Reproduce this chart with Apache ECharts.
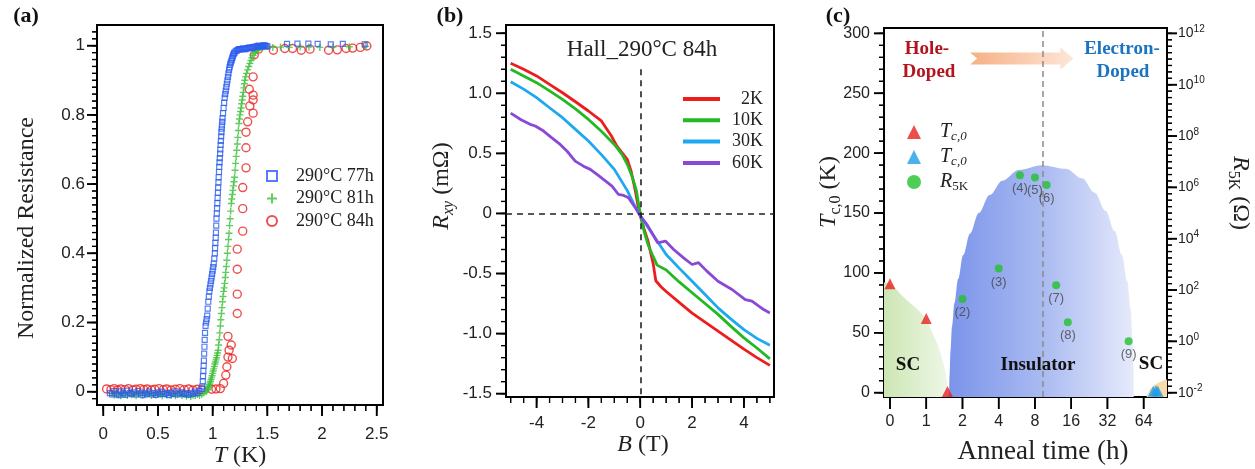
<!DOCTYPE html>
<html>
<head>
<meta charset="utf-8">
<script src="https://cdn.jsdelivr.net/npm/echarts@6.0.0/dist/echarts.min.js"></script>
<style>
html,body{margin:0;padding:0;background:#fff;}
#chart{width:1255px;height:469px;}
</style>
</head>
<body>
<div id="chart"></div>
<script>
// ===================== Panel (a): normalized resistance vs T =====================
const res77h = [[0.06,-0.004],[0.08,-0.008],[0.10,0.002],[0.12,-0.006],[0.14,-0.010],[0.16,0.001],[0.18,-0.005],[0.20,-0.009],[0.22,0.003],[0.24,-0.004],[0.26,-0.007],[0.28,-0.002],[0.30,-0.008],[0.32,0.002],[0.34,-0.005],[0.36,-0.010],[0.38,-0.003],[0.40,-0.006],[0.42,0.001],[0.44,-0.008],[0.46,-0.004],[0.48,-0.009],[0.50,-0.002],[0.52,-0.006],[0.54,0.000],[0.56,-0.007],[0.58,-0.004],[0.60,-0.010],[0.62,-0.003],[0.64,-0.006],[0.66,0.001],[0.68,-0.008],[0.70,-0.005],[0.72,-0.002],[0.74,-0.007],[0.76,-0.004],[0.78,-0.009],[0.80,-0.003],[0.82,-0.006],[0.84,0.000],[0.86,-0.004],[0.88,0.002],[0.90,0.008],
 [0.905,0.015],[0.91,0.03],[0.912,0.045],[0.915,0.06],[0.918,0.075],[0.92,0.09],[0.922,0.11],[0.925,0.13],[0.927,0.15],[0.93,0.17],[0.935,0.19],[0.94,0.20],[0.945,0.21],[0.95,0.22],[0.955,0.24],[0.96,0.26],[0.965,0.275],[0.97,0.29],[0.975,0.30],[0.98,0.31],[0.985,0.32],[0.99,0.33],[0.995,0.34],[1.00,0.35],[1.005,0.36],[1.01,0.37],[1.015,0.385],[1.02,0.40],[1.022,0.415],[1.025,0.43],[1.028,0.445],[1.03,0.46],[1.033,0.48],[1.035,0.50],[1.038,0.515],[1.04,0.53],[1.043,0.545],[1.045,0.56],[1.048,0.575],[1.05,0.59],[1.053,0.605],[1.055,0.62],[1.058,0.635],[1.06,0.65],[1.063,0.663],[1.065,0.675],[1.068,0.688],[1.07,0.70],[1.073,0.713],[1.075,0.725],[1.078,0.738],[1.08,0.75],[1.083,0.76],[1.085,0.77],[1.088,0.78],[1.09,0.79],[1.095,0.805],[1.10,0.82],[1.105,0.835],[1.11,0.85],[1.115,0.86],[1.12,0.87],[1.125,0.88],[1.13,0.89],[1.135,0.90],[1.14,0.91],[1.145,0.92],[1.15,0.93],[1.155,0.938],[1.16,0.945],[1.165,0.95],[1.17,0.955],[1.175,0.96],[1.18,0.965],[1.185,0.97],[1.19,0.975],[1.195,0.978],[1.20,0.98],[1.21,0.984],[1.22,0.986],[1.23,0.988],[1.24,0.99],[1.25,0.989],[1.26,0.99],[1.27,0.991],[1.28,0.992],[1.29,0.99],[1.30,0.99],[1.31,0.992],[1.32,0.993],[1.33,0.994],[1.34,0.995],[1.35,0.993],[1.36,0.994],[1.37,0.996],[1.38,0.997],[1.39,0.996],[1.40,0.998],[1.41,0.999],[1.42,1.0],[1.43,0.999],[1.44,0.998],[1.45,0.999],[1.46,1.0],[1.47,1.001],[1.48,1.0],[1.49,0.999],[1.50,0.998],
 [1.68,1.005],[1.775,1.006],[1.875,1.006],[1.96,1.005],[2.08,1.004],[2.19,1.005],[2.39,1.004]];
const res81h = [[0.08,-0.006],[0.10,-0.010],[0.12,-0.004],[0.14,-0.009],[0.16,-0.012],[0.18,-0.005],[0.20,-0.008],[0.22,-0.011],[0.24,-0.004],[0.26,-0.009],[0.28,-0.006],[0.30,-0.012],[0.32,-0.007],[0.34,-0.003],[0.36,-0.010],[0.38,-0.006],[0.40,-0.009],[0.42,-0.004],[0.44,-0.011],[0.46,-0.007],[0.48,-0.010],[0.50,-0.005],[0.52,-0.008],[0.54,-0.012],[0.56,-0.006],[0.58,-0.009],[0.60,-0.004],[0.62,-0.010],[0.64,-0.007],[0.66,-0.012],[0.68,-0.008],[0.70,-0.005],[0.72,-0.011],[0.74,-0.008],[0.76,-0.013],[0.78,-0.009],[0.80,-0.014],[0.82,-0.010],[0.84,-0.012],[0.86,-0.008],[0.88,-0.011],[0.90,-0.007],[0.92,-0.004],[0.94,0.000],
 [0.95,0.005],[0.955,0.008],[0.96,0.012],[0.965,0.016],[0.97,0.02],[0.975,0.025],[0.98,0.03],[0.985,0.035],[0.99,0.04],[0.995,0.046],[1.00,0.053],[1.005,0.06],[1.01,0.066],[1.015,0.073],[1.02,0.08],[1.025,0.086],[1.03,0.092],[1.035,0.098],[1.04,0.105],[1.045,0.112],[1.05,0.12],[1.055,0.135],[1.06,0.15],[1.065,0.17],[1.07,0.19],[1.075,0.208],[1.08,0.226],[1.085,0.243],[1.09,0.26],[1.095,0.275],[1.10,0.29],[1.105,0.30],[1.11,0.313],[1.115,0.33],[1.12,0.345],[1.125,0.362],[1.13,0.38],[1.135,0.40],[1.14,0.42],[1.145,0.44],[1.15,0.458],[1.155,0.48],[1.16,0.50],[1.165,0.522],[1.17,0.544],[1.175,0.557],[1.18,0.57],[1.185,0.582],[1.19,0.595],[1.195,0.607],[1.20,0.62],[1.205,0.64],[1.21,0.66],[1.215,0.68],[1.22,0.698],[1.225,0.716],[1.23,0.735],[1.235,0.755],[1.24,0.775],[1.245,0.788],[1.25,0.80],[1.255,0.81],[1.26,0.82],[1.265,0.832],[1.27,0.843],[1.275,0.854],[1.28,0.865],[1.285,0.878],[1.29,0.89],[1.295,0.90],[1.30,0.91],[1.31,0.92],[1.32,0.93],[1.33,0.94],[1.34,0.949],[1.35,0.957],[1.36,0.965],[1.37,0.972],[1.38,0.978],[1.39,0.983],[1.40,0.987],[1.41,0.99],[1.42,0.992],[1.43,0.994],[1.44,0.995],[1.45,0.996],[1.46,0.997],[1.47,0.998],[1.48,0.998],[1.50,0.998],
 [1.55,0.995],[1.62,0.996],[1.70,0.995],[1.80,0.996],[1.88,0.996],[1.98,0.995],[2.10,0.996],[2.25,0.997],[2.40,0.998]];
const res84h = [[0.03,0.008],[0.07,0.006],[0.10,0.009],[0.13,0.005],[0.16,0.008],[0.20,0.006],[0.23,0.009],[0.27,0.005],[0.30,0.007],[0.34,0.009],[0.37,0.006],[0.40,0.008],[0.44,0.005],[0.47,0.007],[0.51,0.009],[0.55,0.006],[0.58,0.008],[0.62,0.005],[0.66,0.007],[0.70,0.009],[0.74,0.006],[0.78,0.008],[0.82,0.005],[0.86,0.007],[0.90,0.006],[0.99,0.007],[1.03,0.008],[1.07,0.009],
 [1.10,0.024],[1.12,0.048],[1.13,0.072],[1.14,0.10],[1.15,0.12],[1.17,0.135],[1.14,0.16],[1.18,0.096],[1.225,0.226],[1.225,0.282],[1.225,0.354],[1.225,0.412],[1.275,0.464],[1.275,0.529],[1.275,0.59],[1.305,0.647],[1.305,0.705],[1.305,0.75],[1.32,0.78],[1.37,0.805],[1.34,0.826],[1.37,0.843],[1.37,0.857],[1.335,0.874],[1.37,0.91],[1.38,0.973],[1.42,0.99],
 [1.555,0.987],[1.66,0.992],[1.73,0.992],[1.81,0.987],[1.89,0.99],[2.06,0.987],[2.14,0.988],[2.22,0.992],[2.28,0.993],[2.35,0.995],[2.41,0.999]];
const aTempTicks = [0, 0.5, 1, 1.5, 2, 2.5];
const aResTicks = [0, 0.2, 0.4, 0.6, 0.8, 1];

// ===================== Panel (b): Hall resistance vs B =====================
const hall2K = [[-5,1.25],[-4.5,1.20],[-4,1.145],[-3.5,1.075],[-3,1.005],[-2.5,0.93],[-2,0.853],[-1.5,0.77],[-1.1,0.64],[-0.9,0.56],[-0.7,0.505],[-0.5,0.45],[-0.35,0.35],[-0.2,0.2],[-0.1,0.08],[0,-0.02],[0.15,-0.13],[0.3,-0.23],[0.5,-0.42],[0.6,-0.56],[0.8,-0.61],[1,-0.65],[1.5,-0.74],[2,-0.83],[2.5,-0.905],[3,-0.98],[3.5,-1.055],[4,-1.13],[4.5,-1.20],[5,-1.265]];
const hall10K = [[-5,1.20],[-4.5,1.145],[-4,1.089],[-3.5,1.02],[-3,0.95],[-2.5,0.87],[-2,0.783],[-1.5,0.685],[-1,0.575],[-0.7,0.49],[-0.5,0.41],[-0.3,0.30],[-0.15,0.19],[0,0.0],[0.15,-0.15],[0.3,-0.26],[0.5,-0.36],[0.65,-0.43],[1,-0.47],[1.5,-0.57],[2,-0.66],[2.5,-0.75],[3,-0.84],[3.5,-0.94],[4,-1.036],[4.5,-1.12],[5,-1.21]];
const hall30K = [[-5,1.097],[-4.5,1.035],[-4,0.964],[-3.5,0.88],[-3,0.797],[-2.5,0.70],[-2,0.603],[-1.5,0.49],[-1,0.367],[-0.5,0.19],[-0.25,0.08],[0,-0.02],[0.25,-0.1],[0.5,-0.18],[1,-0.342],[1.5,-0.455],[2,-0.564],[2.5,-0.675],[3,-0.786],[3.5,-0.88],[4,-0.967],[4.5,-1.04],[5,-1.097]];
const hall60K = [[-5,0.835],[-4.6,0.78],[-4.25,0.742],[-4.05,0.728],[-3.73,0.686],[-3.41,0.63],[-3.09,0.575],[-2.83,0.52],[-2.51,0.436],[-2.19,0.394],[-1.93,0.367],[-1.67,0.325],[-1.42,0.283],[-1.09,0.228],[-0.84,0.158],[-0.64,0.15],[-0.45,0.13],[-0.19,0.047],[0,-0.02],[0.26,-0.092],[0.67,-0.244],[0.97,-0.23],[1.29,-0.30],[1.67,-0.37],[2.0,-0.425],[2.25,-0.41],[2.57,-0.48],[3.0,-0.564],[3.54,-0.633],[4.05,-0.717],[4.31,-0.73],[4.76,-0.80],[5.0,-0.828]];
const bFieldTicks = [-4, -2, 0, 2, 4];
const bRxyTicks = [-1.5, -1, -0.5, 0, 0.5, 1, 1.5];

// ===================== Panel (c): phase diagram =====================
const annealTickHours = [0, 1, 2, 4, 8, 16, 32, 64];
const holeTcHours = [0, 1, 1.5];
const holeTc = [91, 62, 1];
const elecTcHours = [77, 81, 84];
const elecTc = [1.2, 1.8, 1.2];
const r5kHours = [2, 4, 6, 8, 10, 12, 15, 48];
const r5kOhm = [45, 690, 3.0e6, 2.45e6, 1.23e6, 155, 5.6, 1.0];
const r5kLabels = ['(2)', '(3)', '(4)', '(5)', '(6)', '(7)', '(8)', '(9)'];
const cTcTicks = [0, 50, 100, 150, 200, 250, 300];
const cRExpTicks = [-2, 0, 2, 4, 6, 8, 10, 12];
const crossoverHours = 9.25;
// region outlines, in anneal-axis position units and Tc units
const holeScOutline = [[-0.17,92],[0,91],[0.37,80],[0.74,70],[1.0,61],[1.2,48],[1.34,38],[1.45,27],[1.52,19],[1.58,8],[1.61,-3.6]];
const insulatorOutline = [[1.63,-3.6],[1.645,15],[1.67,35],[1.71,55],[1.78,75],[1.88,95],[2.02,115],[2.21,133],[2.45,150],[2.75,165],[3.1,177],[3.55,186],[4.19,190],[4.85,187],[5.3,179],[5.65,167],[5.95,152],[6.2,135],[6.4,115],[6.55,93],[6.64,70],[6.69,45],[6.72,20],[6.73,-3.6]];
const elecScOutline = [[7.08,-3.6],[7.18,3],[7.3,6.5],[7.45,9],[7.64,11],[7.8,12]];
const dopingArrow = [[2.21, 279, 5.06]];

// ===================== helpers =====================
const SERIF = 'Liberation Serif', SANS = 'Liberation Sans';
function steps(a, b, s) { const r = []; for (let i = 0; a + i * s <= b + 1e-9; i++) r.push(+(a + i * s).toFixed(6)); return r; }
const annealPos = h => h === 0 ? 0 : 1 + Math.log2(h);

function mkAxis(grid, pos, min, max, majors, o) {
  const ax = { type: 'value', gridIndex: grid, min: min, max: max, position: pos, splitLine: { show: false },
    axisLine: { show: true, onZero: false, lineStyle: { color: '#000', width: 2 } },
    axisTick: { show: false },
    axisLabel: { show: true, customValues: majors, margin: o.margin, color: '#222', fontFamily: SANS, fontSize: o.fs || 17 } };
  if (o.fmt) ax.axisLabel.formatter = o.fmt;
  if (o.rich) ax.axisLabel.rich = o.rich;
  return ax;
}

// axis ranges
const aX = [-0.0576, 2.5576], aY = [-0.0384, 1.0598];
const bX = [-5.18, 5.16], bY = [-1.528, 1.569];
const cX = [-0.166, 7.644], cY = [-3.6, 304.5];
const cR = [-2 + cY[0] * 14 / 300, -2 + cY[1] * 14 / 300];

const xAxis = [
  mkAxis(0, 'bottom', aX[0], aX[1], aTempTicks, { margin: 21 }),
  mkAxis(1, 'bottom', bX[0], bX[1], bFieldTicks, { margin: 18 }),
  mkAxis(2, 'bottom', cX[0], cX[1], steps(0, 7, 1), { margin: 17, fs: 16, fmt: v => String(annealTickHours[Math.round(v)]) })
];
const yAxis = [
  mkAxis(0, 'left', aY[0], aY[1], aResTicks, { margin: 12 }),
  mkAxis(1, 'left', bY[0], bY[1], bRxyTicks, { margin: 14, fmt: v => v === 0 ? '0' : v.toFixed(1) }),
  mkAxis(2, 'left', cY[0], cY[1], cTcTicks, { margin: 14, fs: 16 }),
  mkAxis(2, 'right', cR[0], cR[1], cRExpTicks, { margin: 11, fs: 14,
    fmt: v => '{b|10}{s|' + v + '}',
    rich: { b: { fontFamily: SANS, fontSize: 14, color: '#222', lineHeight: 18 },
            s: { fontFamily: SANS, fontSize: 10, color: '#222', lineHeight: 10, verticalAlign: 'top' } } })
];

// tick marks: [side, xAxisIndex, yAxisIndex, edge value on the other axis, tick values, length, width]
const tickDefs = [
  ['b', 0, 0, aY[0], aTempTicks, 11, 1.6], ['b', 0, 0, aY[0], steps(0, 2.5, 0.1), 6, 1.2],
  ['l', 0, 0, aX[0], aResTicks, 10, 1.6], ['l', 0, 0, aX[0], steps(-0.02, 1.04, 0.02), 5, 1.2],
  ['b', 1, 1, bY[0], bFieldTicks, 11, 1.6], ['b', 1, 1, bY[0], steps(-5, 5, 0.5), 6, 1.2],
  ['l', 1, 1, bX[0], bRxyTicks, 10, 1.6], ['l', 1, 1, bX[0], steps(-1.5, 1.5, 0.1), 5, 1.2],
  ['b', 2, 2, cY[0], steps(0, 7, 1), 12, 1.6],
  ['l', 2, 2, cX[0], cTcTicks, 10, 1.6], ['l', 2, 2, cX[0], steps(0, 300, 10), 5, 1.2],
  ['r', 2, 3, cX[1], cRExpTicks, 10, 1.6], ['r', 2, 3, cX[1], steps(-2, 12, 0.25), 5, 1.2]
];
function tickShape(side, px, py, len) {
  if (side === 'b') return { x1: px, y1: py, x2: px, y2: py + len };
  if (side === 'l') return { x1: px - len, y1: py, x2: px, y2: py };
  return { x1: px, y1: py, x2: px + len, y2: py };
}
// tick marks as custom series, positioned by the axes' own scales
const tickSeriesList = tickDefs.map(function (d) {
  const side = d[0], edge = d[3], len = d[5], w = d[6];
  return { type: 'custom', xAxisIndex: d[1], yAxisIndex: d[2], clip: false, z: 6,
    data: d[4].map(v => [v, v]),
    renderItem: function (params, api) {
      const c = side === 'b' ? api.coord([api.value(0), edge]) : api.coord([edge, api.value(1)]);
      return { type: 'line', shape: tickShape(side, c[0], c[1], len), style: { stroke: '#000', lineWidth: w } };
    } };
});

const gridStyle = { show: true, borderColor: '#000', borderWidth: 2, backgroundColor: 'transparent' };
const grid = [
  Object.assign({ left: 97, top: 25, width: 286, height: 380 }, gridStyle),
  Object.assign({ left: 506, top: 25, width: 268, height: 372 }, gridStyle),
  Object.assign({ left: 884, top: 28, width: 283, height: 369 }, gridStyle)
];

const LG = echarts.graphic.LinearGradient;
const plusPath = 'path://M2,0H3V2H5V3H3V5H2V3H0V2H2Z';

const series = [
  // ---- (a) ----
  { name: '290°C 84h', type: 'scatter', xAxisIndex: 0, yAxisIndex: 0, data: res84h, symbol: 'circle', symbolSize: 8,
    itemStyle: { color: 'rgba(255,255,255,0)', borderColor: '#e8221f', borderWidth: 1.4 }, z: 2 },
  { name: '290°C 81h', type: 'scatter', xAxisIndex: 0, yAxisIndex: 0, data: res81h, symbol: plusPath, symbolSize: 7,
    itemStyle: { color: '#3cbf3a' }, z: 3 },
  { name: '290°C 77h', type: 'scatter', xAxisIndex: 0, yAxisIndex: 0, data: res77h, symbol: 'rect', symbolSize: 5,
    itemStyle: { color: 'rgba(255,255,255,0)', borderColor: '#2a5cf0', borderWidth: 1.2 }, z: 4 },
  // ---- (b) ----
  { name: '2K', type: 'line', xAxisIndex: 1, yAxisIndex: 1, data: hall2K, showSymbol: false, lineStyle: { color: '#ee1d1d', width: 2.8 }, itemStyle: { color: '#ee1d1d' },
    markLine: { silent: true, symbol: 'none', label: { show: false }, lineStyle: { type: [6, 5], color: '#222', width: 1.6 },
      data: [{ yAxis: 0 }, [{ coord: [0, 1.2] }, { coord: [0, bY[0]] }]] } },
  { name: '10K', type: 'line', xAxisIndex: 1, yAxisIndex: 1, data: hall10K, showSymbol: false, lineStyle: { color: '#22b922', width: 2.8 }, itemStyle: { color: '#22b922' } },
  { name: '30K', type: 'line', xAxisIndex: 1, yAxisIndex: 1, data: hall30K, showSymbol: false, lineStyle: { color: '#1ea8f0', width: 2.8 }, itemStyle: { color: '#1ea8f0' } },
  { name: '60K', type: 'line', xAxisIndex: 1, yAxisIndex: 1, data: hall60K, showSymbol: false, lineStyle: { color: '#8a48d6', width: 2.8 }, itemStyle: { color: '#8a48d6' } },
  // ---- (c) regions ----
  { type: 'line', xAxisIndex: 2, yAxisIndex: 2, data: holeScOutline, smooth: 0.3, symbol: 'none', silent: true, z: 1,
    lineStyle: { width: 0, opacity: 0 },
    areaStyle: { origin: 'start', opacity: 1, color: new LG(0, 0, 1, 0, [{ offset: 0, color: '#cce6b3' }, { offset: 1, color: '#eef7e7' }]) } },
  { type: 'line', xAxisIndex: 2, yAxisIndex: 2, data: insulatorOutline, smooth: 0.35, smoothMonotone: 'x', symbol: 'none', silent: true, z: 1,
    lineStyle: { width: 0, opacity: 0 },
    areaStyle: { origin: 'start', opacity: 1, color: new LG(0, 0, 1, 0, [{ offset: 0, color: '#7b94ea' }, { offset: 0.5, color: '#a9baf1' }, { offset: 1, color: '#e6eafb' }]) } },
  { type: 'line', xAxisIndex: 2, yAxisIndex: 2, data: elecScOutline, smooth: 0.3, symbol: 'none', silent: true, z: 1,
    lineStyle: { width: 0, opacity: 0 },
    areaStyle: { origin: 'start', opacity: 1, color: '#f8dba6' } },
  { type: 'custom', xAxisIndex: 2, yAxisIndex: 2, data: dopingArrow, silent: true, z: 2,
    renderItem: function (params, api) {
      const p0 = api.coord([api.value(0), api.value(1)]);
      const p1 = api.coord([api.value(2), api.value(1)]);
      const y = p0[1], x0 = p0[0], x1 = p1[0];
      return { type: 'polygon',
        shape: { points: [[x0, y - 6], [x1 - 13, y - 6], [x1 - 13, y - 11], [x1, y], [x1 - 13, y + 11], [x1 - 13, y + 6], [x0, y + 6], [x0 + 7, y]] },
        style: { fill: new LG(0, 0, 1, 0, [{ offset: 0, color: '#f6b083' }, { offset: 1, color: '#fde6d8' }]) } };
    } },
  // ---- (c) markers ----
  { name: 'Tc0h', type: 'scatter', xAxisIndex: 2, yAxisIndex: 2, symbol: 'triangle', symbolSize: 11, z: 4,
    data: holeTcHours.map((h, i) => [annealPos(h), holeTc[i]]), itemStyle: { color: '#e8201e' } },
  { name: 'Tc0e', type: 'scatter', xAxisIndex: 2, yAxisIndex: 2, symbol: 'triangle', symbolSize: 11, z: 4,
    data: elecTcHours.map((h, i) => [annealPos(h), elecTc[i]]), itemStyle: { color: '#1e9ee8' } },
  { name: 'R5K', type: 'scatter', xAxisIndex: 2, yAxisIndex: 3, symbol: 'circle', symbolSize: 8, z: 4,
    data: r5kHours.map((h, i) => ({ value: [annealPos(h), Math.log10(r5kOhm[i])], label: { formatter: r5kLabels[i] } })),
    itemStyle: { color: '#22c22c' },
    label: { show: true, position: 'bottom', distance: 3, fontFamily: SANS, fontSize: 13, color: '#444' },
    markLine: { silent: true, symbol: 'none', label: { show: false }, lineStyle: { type: [6, 4], color: '#8a8a8a', width: 1.5 },
      data: [{ xAxis: annealPos(crossoverHours) }] } }
].concat(tickSeriesList);

const legend = [
  { data: ['290°C 77h', '290°C 81h', '290°C 84h'], orient: 'vertical', left: 261, top: 162, itemWidth: 10, itemHeight: 10, itemGap: 4.5,
    selectedMode: false, textStyle: { fontFamily: SERIF, fontSize: 18, color: '#222', lineHeight: 18, padding: [0, 0, 0, 14] } },
  { data: ['2K', '10K', '30K', '60K'], orient: 'vertical', left: 678, top: 85, icon: 'rect', itemWidth: 37, itemHeight: 4, itemGap: 3.3,
    selectedMode: false, formatter: n => '{r|' + n + '}',
    textStyle: { rich: { r: { width: 38, align: 'right', fontFamily: SERIF, fontSize: 18, color: '#222', lineHeight: 20 } } } },
  { data: ['Tc0h', 'Tc0e', 'R5K'], orient: 'vertical', left: 902, top: 117, itemWidth: 14, itemHeight: 14, itemGap: 4,
    selectedMode: false, formatter: n => ({ Tc0h: '{i|T}{s|c,0}', Tc0e: '{i|T}{s|c,0}', R5K: '{i|R}{t|5K}' })[n],
    textStyle: { padding: [0, 0, 0, 14], rich: {
      i: { fontFamily: SERIF, fontStyle: 'italic', fontSize: 20, lineHeight: 22, color: '#222' },
      s: { fontFamily: SERIF, fontStyle: 'italic', fontSize: 13, lineHeight: 12, verticalAlign: 'bottom', color: '#222' },
      t: { fontFamily: SERIF, fontSize: 13, lineHeight: 12, verticalAlign: 'bottom', color: '#222' } } } }
];

const nameRich = {
  i: { fontFamily: SERIF, fontStyle: 'italic', fontSize: 24, lineHeight: 30, fill: '#222' },
  n: { fontFamily: SERIF, fontSize: 24, lineHeight: 30, fill: '#222' },
  s: { fontFamily: SERIF, fontStyle: 'italic', fontSize: 16, lineHeight: 16, verticalAlign: 'bottom', fill: '#222' },
  u: { fontFamily: SERIF, fontSize: 16, lineHeight: 16, verticalAlign: 'bottom', fill: '#222' }
};
function txt(x, y, text, font, fill) {
  return { type: 'text', x: x, y: y, z: 100,
    style: { text: text, font: font, fill: fill || '#222', align: 'center', verticalAlign: 'middle' } };
}
function richTxt(x, y, text, rot) {
  return { type: 'text', x: x, y: y, rotation: rot || 0, z: 100,
    style: { text: text, rich: nameRich, font: '24px "Liberation Serif"', fill: '#222', align: 'center', verticalAlign: 'middle' } };
}
const graphic = [
  txt(26, 16, '(a)', 'bold 22px "Liberation Serif"', '#111'),
  txt(450, 16, '(b)', 'bold 22px "Liberation Serif"', '#111'),
  txt(838, 16, '(c)', 'bold 22px "Liberation Serif"', '#111'),
  richTxt(27, 228, '{n|Normalized Resistance}', Math.PI / 2),
  richTxt(240, 456, '{i|T}{n| (K)}'),
  richTxt(442, 186, '{i|R}{s|xy}{n| (mΩ)}', Math.PI / 2),
  richTxt(643, 445, '{i|B}{n| (T)}'),
  txt(642, 50, 'Hall_290°C 84h', '23px "Liberation Serif"', '#222'),
  richTxt(829, 192, '{i|T}{u|c,0}{n| (K)}', Math.PI / 2),
  richTxt(1240, 193, '{i|R}{u|5K}{n| (Ω)}', -Math.PI / 2),
  txt(1043, 452, 'Anneal time (h)', '27px "Liberation Serif"', '#222'),
  txt(927, 49, 'Hole-', 'bold 19px "Liberation Serif"', '#b3141d'),
  txt(929, 72, 'Doped', 'bold 19px "Liberation Serif"', '#b3141d'),
  txt(1122, 49, 'Electron-', 'bold 19px "Liberation Serif"', '#1a74c2'),
  txt(1123, 72, 'Doped', 'bold 19px "Liberation Serif"', '#1a74c2'),
  txt(908, 365, 'SC', 'bold 19px "Liberation Serif"', '#111'),
  txt(1038, 365, 'Insulator', 'bold 19px "Liberation Serif"', '#111'),
  txt(1151, 364, 'SC', 'bold 19px "Liberation Serif"', '#111')
];

const chart = echarts.init(document.getElementById('chart'), null, { renderer: 'canvas' });
chart.setOption({
  animation: false,
  backgroundColor: '#fff',
  grid: grid, xAxis: xAxis, yAxis: yAxis, series: series, legend: legend, graphic: graphic
});

// second pass: the same tick marks as graphic lines, placed with the axes' own scales
const tickLines = [];
tickDefs.forEach(function (d) {
  d[4].forEach(function (v) {
    const px = chart.convertToPixel({ xAxisIndex: d[1] }, d[0] === 'b' ? v : d[3]);
    const py = chart.convertToPixel({ yAxisIndex: d[2] }, d[0] === 'b' ? d[3] : v);
    if (isFinite(px) && isFinite(py)) {
      tickLines.push({ type: 'line', z: 90, shape: tickShape(d[0], px, py, d[5]), style: { stroke: '#000', lineWidth: d[6] } });
    }
  });
});
chart.setOption({ graphic: graphic.concat(tickLines) });
</script>
</body>
</html>
